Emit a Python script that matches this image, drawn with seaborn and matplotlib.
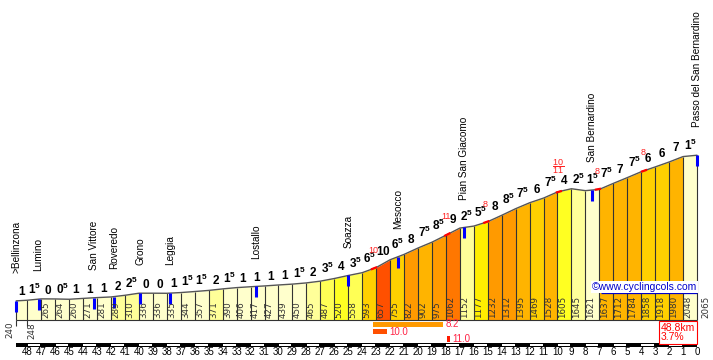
import numpy as np
import seaborn as sns
import matplotlib.pyplot as plt

# km to the summit at every split point, and the height there (m)
km_marks = [48.8] + list(range(48, -1, -1))
heights = [240, 248, 265, 264, 260, 271, 281, 289, 310, 336,
           336, 335, 344, 357, 371, 390, 406, 417, 427, 439,
           450, 465, 487, 520, 558, 593, 657, 755, 822, 902,
           975, 1062, 1152, 1177, 1232, 1312, 1395, 1469, 1528, 1605,
           1645, 1621, 1637, 1712, 1784, 1858, 1918, 1980, 2048, 2065]

# gradient printed above every split (x.5 is shown with a small 5)
grades = [1, 1.5, 0, 0.5, 1, 1, 1, 2, 2.5, 0,
          0, 1, 1.5, 1.5, 2, 1.5, 1, 1, 1, 1,
          1.5, 2, 3.5, 4, 3.5, 6.5, 10, 6.5, 8, 7.5,
          8.5, 9, 2.5, 5.5, 8, 8.5, 7.5, 6, 7.5, 4,
          2.5, 1.5, 7.5, 7, 7.5, 6, 6, 7, 1.5]

place_names = [">Bellinzona", "Lumino", "San Vittore", "Roveredo", "Grono", "Leggia",
               "Lostallo", "Soazza", "Mesocco", "Pian San Giacomo", "San Bernardino",
               "Passo del San Bernardino"]
place_km = [48.8, 47.2, 43.2, 41.8, 39.9, 37.8, 31.6, 25.0, 21.4, 16.7, 7.5, 0.0]

# short steep bits marked in red on the profile
steep_km = [23.15, 17.9, 15.1, 9.9, 7.1, 3.8]
steep_text = ["10", "11", "8", r"$\dfrac{10}{11}$", "8", "8"]

# steepest stretches under the profile
best_start = [23.2, 23.2, 17.9]
best_end = [18.2, 22.2, 17.7]
best_grade = [8.2, 10.0, 11.0]

km_labels = list(range(48, -1, -1))


def grade_color(g):
    steps = [(2, "#FFFFCC"), (3, "#FFFF99"), (4, "#FFFF55"), (5, "#FFFF22"),
             (6, "#FFEE00"), (7, "#FFD000"), (8, "#FFB400"), (9, "#FF9A00"),
             (10, "#FF7700"), (11, "#FF5000")]
    for top, c in steps:
        if g < top:
            return c
    return "#FF1A00"


km_up = km_marks[::-1]
h_up = heights[::-1]


def height_at(k):
    return np.interp(k, km_up, h_up)


sns.set_theme(style="white")
plt.rcParams["font.family"] = ["Liberation Sans", "DejaVu Sans"]
plt.rcParams["mathtext.fontset"] = "custom"
plt.rcParams["mathtext.rm"] = "Liberation Sans"
plt.rcParams["mathtext.bf"] = "Liberation Sans:bold"

fig = plt.figure(figsize=(7.13, 3.6), dpi=100)
ax = fig.add_axes([0, 0, 1, 1])

# coloured km blocks
for i, g in enumerate(grades):
    ax.fill_between([km_marks[i], km_marks[i + 1]], [heights[i], heights[i + 1]], 0,
                    color=grade_color(g), lw=0)
ax.vlines(km_marks, 0, heights, color="#333333", lw=0.8)
ax.hlines(0, km_marks[0], km_marks[-1], color="#333333", lw=0.8)
ax.vlines(km_marks[:2], -70, 0, color="#333333", lw=0.8)
sns.lineplot(x=km_marks, y=heights, color="#555555", lw=1.0, ax=ax, sort=False)

# heights inside the blocks
for i, h in enumerate(heights):
    if i == len(heights) - 1:
        ax.annotate(str(h), (km_marks[i], 0), xytext=(3.5, 1.5), textcoords="offset points",
                    rotation=90, ha="left", va="bottom", fontsize=6.3, color="#333333",
                    family="DejaVu Sans")
        continue
    mid = (km_marks[i] + km_marks[i + 1]) / 2
    if i == 0:
        ax.annotate(str(h), (km_marks[0], 0), xytext=(-1.5, -1), textcoords="offset points",
                    rotation=90, ha="right", va="top", fontsize=6.3, color="#333333",
                    family="DejaVu Sans")
    elif i == 1:
        ax.annotate(str(h), (mid, 0), xytext=(-1.5, -1.5), textcoords="offset points",
                    rotation=90, ha="center", va="top", fontsize=6.3, color="#333333",
                    family="DejaVu Sans")
    else:
        ax.annotate(str(h), (mid, 0), xytext=(-1.5, 1.5), textcoords="offset points",
                    rotation=90, ha="center", va="bottom", fontsize=6.3, color="#333333",
                    family="DejaVu Sans")

# gradient numbers above the blocks
for i, g in enumerate(grades):
    mid = (km_marks[i] + km_marks[i + 1]) / 2
    top = max(heights[i], heights[i + 1])
    w = int(g)
    s = rf"$\mathbf{{{w}}}^{{\mathbf{{5}}}}$" if g % 1 else rf"$\mathbf{{{w}}}$"
    ax.annotate(s, (mid, top), xytext=(0, 1.5), textcoords="offset points",
                ha="center", va="bottom", fontsize=8.5, color="black")

# places
for name, k in zip(place_names, place_km):
    h = height_at(k)
    ax.vlines(k, h - 138, h, color="#0000FF", lw=2.2)
    ax.annotate(name, (k, h), xytext=(0, 20), textcoords="offset points", rotation=90,
                ha="center", va="bottom", fontsize=7.2, color="black")

# steep bits
for k, t in zip(steep_km, steep_text):
    seg = np.array([k + 0.22, k - 0.22])
    ax.plot(seg, height_at(seg), color="#FF0000", lw=1.6, solid_capstyle="butt")
    lift = 18 if "frac" in t else 13
    ax.annotate(t, (k, height_at(k)), xytext=(-0.7, lift), textcoords="offset points",
                ha="center", va="center", fontsize=6.5, color="#FF2222")

# steepest stretches
for row, (k0, k1, g) in enumerate(zip(best_start, best_end, best_grade)):
    y = -56 - 91 * row
    ax.barh(y, k1 - k0, left=k0, height=65, color=grade_color(g), lw=0)
    ax.annotate(f"{g:.1f}", (k1, y), xytext=(1.5, 0), textcoords="offset points",
                ha="left", va="center", fontsize=7, color="#FF2244")

# km scale
ax.barh(-310, km_marks[-1] - km_marks[0], left=km_marks[0], height=50, color="black", lw=0)
for k in km_labels[:-1]:
    if k % 2 == 1:
        ax.barh(-310, -0.91, left=k + 0.98, height=22, color="white", lw=0)
for k in km_labels:
    ax.text(k, -401, str(k), ha="center", va="center", fontsize=7, color="black")

# credit and summary
ax.text(0, 413, "©www.cyclingcols.com", ha="right", va="center", fontsize=7.5,
        color="#0000CC", bbox=dict(facecolor="white", edgecolor="none", pad=0.6))
ax.hlines(338, 6.9, 0, color="#0000CC", lw=0.9)

avg = (heights[-1] - heights[0]) / (km_marks[0] * 10)
ax.text(0.14, -157, f"{km_marks[0]:.1f}km\n{avg:.1f}%", ha="right", va="center",
        multialignment="left", fontsize=7.5, color="#FF0000", linespacing=0.95,
        bbox=dict(facecolor="white", edgecolor="#FF0000", lw=0.8, pad=1.5))

ax.set_xlim(49.96, -1.147)
ax.set_ylim(-501, 4010)
ax.axis("off")

fig.savefig("out.png", dpi=100)
